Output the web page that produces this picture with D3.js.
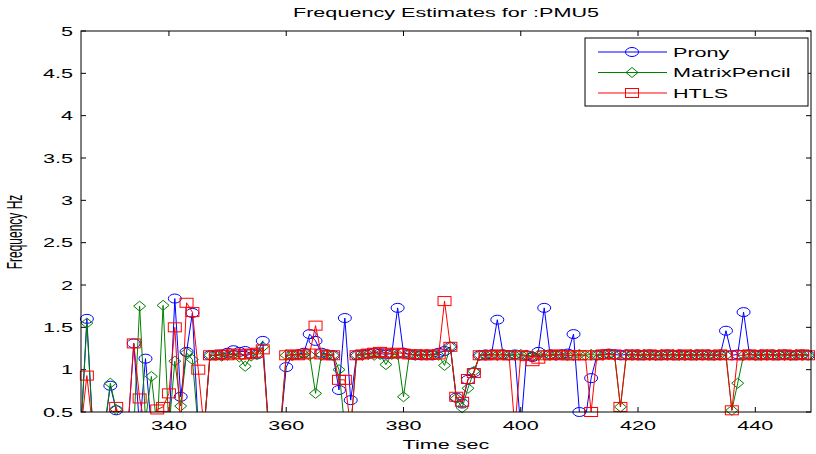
<!DOCTYPE html>
<html>
<head>
<meta charset="utf-8">
<script src="https://cdn.jsdelivr.net/npm/d3@7/dist/d3.min.js"></script>
<style>
    body { margin: 0; background: #fff; }
    text { font-family: "Liberation Sans", Arial, sans-serif; fill: #000; }
</style>
</head>
<body>
<div id="chart"></div>
<script>
// Frequency estimates for PMU5, one sample per second
var startTime = 325, endTime = 449;
var times = d3.range(startTime, endTime + 1);

var yTicks = [0.5, 1, 1.5, 2, 2.5, 3, 3.5, 4, 4.5, 5];
var xTicks = [340, 360, 380, 400, 420, 440];
var seriesNames = ["Prony", "MatrixPencil", "HTLS"];

// values below 0.5 fall outside the axis and only show as clipped lines
var prony = [
    0.3, 1.6, 0.3, 0.3, 0.3, 0.81, 0.52, 0.3, 0.3, 1.31,
    0.3, 1.13, 0.3, 0.3, 0.3, 0.3, 1.84, 0.68, 1.21, 1.67,
    0.3, 0.3, 1.17, 1.17, 1.18, 1.2, 1.23, 1.21, 1.22, 1.19,
    1.18, 1.34, 0.3, 0.3, 0.3, 1.03, 1.17, 1.18, 1.2, 1.42,
    1.34, 1.2, 1.18, 1.17, 0.76, 1.61, 0.64, 1.17, 1.18, 1.19,
    1.2, 1.19, 1.18, 1.19, 1.73, 1.2, 1.18, 1.17, 1.17, 1.18,
    1.17, 1.2, 1.22, 1.27, 0.67, 0.6, 0.88, 0.97, 1.17, 1.18,
    1.18, 1.59, 1.18, 1.17, 1.18, 0.3, 1.17, 1.15, 1.21, 1.73,
    1.18, 1.17, 1.18, 1.19, 1.42, 0.5, 0.4, 0.9, 1.17, 1.18,
    1.19, 1.18, 1.17, 1.18, 1.17, 1.18, 1.17, 1.18, 1.17, 1.17,
    1.18, 1.17, 1.18, 1.17, 1.17, 1.18, 1.17, 1.18, 1.17, 1.17,
    1.46, 1.17, 1.18, 1.68, 1.18, 1.17, 1.18, 1.17, 1.18, 1.17,
    1.18, 1.17, 1.17, 1.18, 1.17
];
var matrixPencil = [
    0.3, 1.55, 0.3, 0.3, 0.3, 0.84, 0.53, 0.3, 0.3, 0.3,
    1.75, 0.4, 0.92, 0.3, 1.76, 0.3, 1.1, 0.57, 1.2, 1.12,
    0.3, 0.3, 1.17, 1.17, 1.16, 1.17, 1.18, 1.15, 1.04, 1.16,
    1.18, 1.27, 0.3, 0.3, 0.3, 1.17, 1.17, 1.18, 1.18, 1.17,
    0.72, 1.17, 1.18, 1.17, 1.0, 0.3, 0.3, 1.17, 1.17, 1.18,
    1.17, 1.18, 1.06, 1.18, 1.18, 0.68, 1.18, 1.17, 1.18, 1.17,
    1.18, 1.17, 1.05, 1.27, 0.66, 0.55, 0.78, 0.98, 1.17, 1.17,
    1.18, 1.17, 1.18, 1.17, 1.17, 1.18, 1.17, 1.16, 1.17, 1.18,
    1.17, 1.17, 1.18, 1.17, 1.17, 1.18, 1.17, 1.18, 1.17, 1.17,
    1.18, 1.17, 0.56, 1.17, 1.18, 1.17, 1.18, 1.17, 1.17, 1.18,
    1.17, 1.18, 1.17, 1.17, 1.18, 1.17, 1.18, 1.17, 1.17, 1.18,
    1.17, 0.52, 0.84, 1.17, 1.18, 1.17, 1.17, 1.18, 1.17, 1.18,
    1.17, 1.17, 1.18, 1.17, 1.17
];
var htls = [
    0.3, 0.93, 0.3, 0.3, 0.3, 0.3, 0.56, 0.3, 0.3, 1.31,
    0.66, 0.3, 0.3, 0.53, 0.56, 0.72, 1.5, 0.3, 1.79, 1.68,
    1.0, 0.3, 1.17, 1.17, 1.18, 1.17, 1.19, 1.18, 1.18, 1.19,
    1.2, 1.24, 0.3, 0.3, 0.3, 1.17, 1.18, 1.17, 1.18, 1.19,
    1.52, 1.18, 1.17, 1.17, 0.88, 0.88, 0.3, 1.17, 1.18, 1.19,
    1.2, 1.21, 1.2, 1.19, 1.2, 1.19, 1.18, 1.18, 1.18, 1.17,
    1.18, 1.18, 1.81, 1.27, 0.68, 0.62, 0.89, 0.96, 1.17, 1.17,
    1.17, 1.18, 1.17, 1.17, 0.3, 1.17, 1.16, 1.1, 1.13, 1.17,
    1.17, 1.18, 1.17, 1.17, 1.17, 1.17, 1.17, 0.5, 1.17, 1.18,
    1.18, 1.18, 0.56, 1.17, 1.18, 1.17, 1.17, 1.18, 1.17, 1.17,
    1.18, 1.17, 1.17, 1.18, 1.17, 1.17, 1.18, 1.17, 1.17, 1.18,
    1.17, 0.52, 1.17, 1.17, 1.18, 1.17, 1.17, 1.18, 1.17, 1.17,
    1.18, 1.17, 1.17, 1.18, 1.17
];

var width = 816, height = 454;
var plotLeft = 81, plotRight = 811, plotTop = 31, plotBottom = 412;
var stretch = 1.8;   // the reference text is drawn wide

var svg = d3.select("#chart")
    .append("svg")
    .attr("width", width)
    .attr("height", height);

svg.append("rect")
    .attr("width", width)
    .attr("height", height)
    .attr("fill", "#fff");

var x = d3.scaleLinear().domain([325, 449.5]).range([plotLeft, plotRight]);
var y = d3.scaleLinear().domain([0.5, 5]).range([plotBottom, plotTop]);

svg.append("clipPath")
    .attr("id", "plotClip")
    .append("rect")
    .attr("x", plotLeft)
    .attr("y", plotTop)
    .attr("width", plotRight - plotLeft)
    .attr("height", plotBottom - plotTop);

//Adds wide text like the reference
function wideText(tx, ty, str, anchor, size) {
    return svg.append("text")
        .attr("transform", "translate(" + tx + "," + ty + ") scale(" + stretch + ",1)")
        .attr("text-anchor", anchor)
        .attr("font-size", size + "px")
        .text(str);
}

//Axes: ticks point inwards on all four sides
var axisG = svg.append("g").attr("class", "axes");
xTicks.forEach(function (t) {
    axisG.append("line").attr("x1", x(t)).attr("x2", x(t)).attr("y1", plotBottom).attr("y2", plotBottom - 5);
    axisG.append("line").attr("x1", x(t)).attr("x2", x(t)).attr("y1", plotTop).attr("y2", plotTop + 5);
    wideText(x(t), 430, t, "middle", 12);
});
yTicks.forEach(function (v) {
    axisG.append("line").attr("x1", plotLeft).attr("x2", plotLeft + 5).attr("y1", y(v)).attr("y2", y(v));
    axisG.append("line").attr("x1", plotRight).attr("x2", plotRight - 5).attr("y1", y(v)).attr("y2", y(v));
    wideText(73, y(v) + 4.5, v, "end", 12);
});
axisG.selectAll("line").attr("stroke", "#000").attr("stroke-width", 1);

//Markers
function drawMarker(g, kind, cx, cy, color) {
    if (kind === "circle") {
        g.append("ellipse").attr("cx", cx).attr("cy", cy).attr("rx", 6.5).attr("ry", 4.5)
            .attr("fill", "none").attr("stroke", color);
    } else if (kind === "diamond") {
        g.append("path")
            .attr("d", "M" + (cx - 6) + "," + cy + "L" + cx + "," + (cy - 5) + "L" + (cx + 6) + "," + cy + "L" + cx + "," + (cy + 5) + "Z")
            .attr("fill", "none").attr("stroke", color);
    } else {
        g.append("rect").attr("x", cx - 6.5).attr("y", cy - 4.5).attr("width", 13).attr("height", 9)
            .attr("fill", "none").attr("stroke", color);
    }
}

var series = [
    {name: seriesNames[0], values: prony, color: "#0000ff", marker: "circle"},
    {name: seriesNames[1], values: matrixPencil, color: "#008000", marker: "diamond"},
    {name: seriesNames[2], values: htls, color: "#ff0000", marker: "square"}
];

var line = d3.line()
    .x(function (d, i) { return x(times[i]); })
    .y(function (d) { return y(d); });

series.forEach(function (s) {
    var g = svg.append("g");
    g.append("path")
        .attr("d", line(s.values))
        .attr("clip-path", "url(#plotClip)")
        .attr("fill", "none")
        .attr("stroke", s.color)
        .attr("stroke-width", 1);
    s.values.forEach(function (v, i) {
        if (v >= 0.5) drawMarker(g, s.marker, x(times[i]), y(v), s.color);
    });
});

//Axes box
svg.append("rect")
    .attr("x", plotLeft).attr("y", plotTop)
    .attr("width", plotRight - plotLeft).attr("height", plotBottom - plotTop)
    .attr("fill", "none").attr("stroke", "#000");

//Titles
wideText((plotLeft + plotRight) / 2, 17, "Frequency Estimates for :PMU5", "middle", 12);
wideText((plotLeft + plotRight) / 2, 449, "Time sec", "middle", 12);
svg.append("text")
    .attr("transform", "translate(22,232) scale(" + stretch + ",1) rotate(-90)")
    .attr("text-anchor", "middle")
    .attr("font-size", "12px")
    .text("Frequency Hz");

//Legend
var legend = svg.append("g");
legend.append("rect")
    .attr("x", 585).attr("y", 38).attr("width", 223).attr("height", 68)
    .attr("fill", "#fff").attr("stroke", "#000");
series.forEach(function (s, i) {
    var ly = 52 + i * 20.5;
    legend.append("line").attr("x1", 598).attr("x2", 667).attr("y1", ly).attr("y2", ly)
        .attr("stroke", s.color);
    drawMarker(legend, s.marker, 632, ly, s.color);
    legend.append("text")
        .attr("transform", "translate(673," + (ly + 4.5) + ") scale(" + stretch + ",1)")
        .attr("font-size", "12px")
        .text(s.name);
});
</script>
</body>
</html>
